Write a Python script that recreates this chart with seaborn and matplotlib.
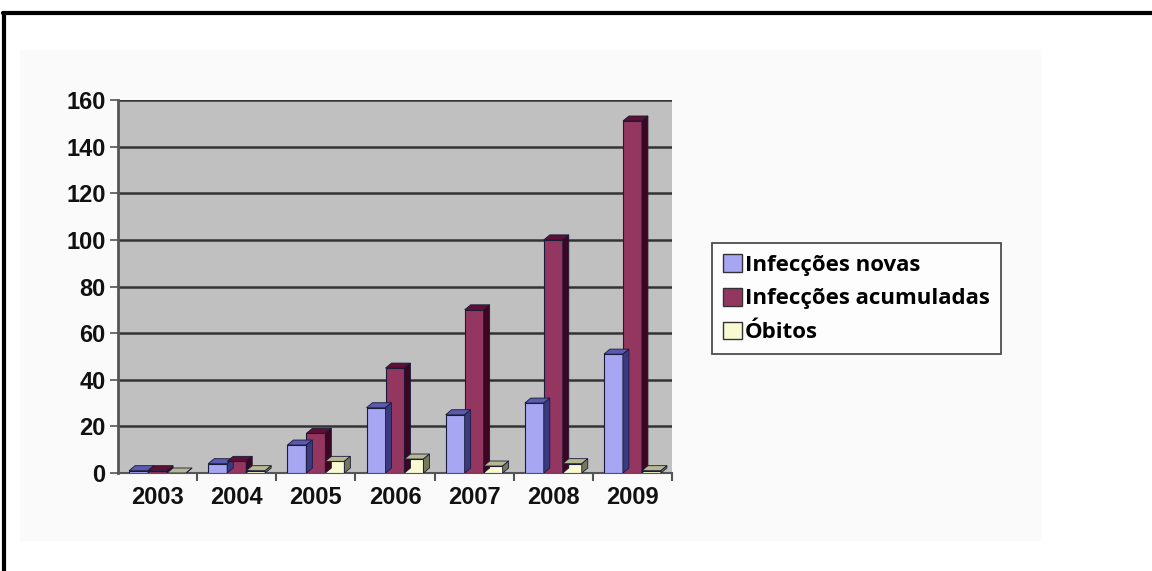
import matplotlib.pyplot as plt
import pandas as pd
import seaborn as sns
from matplotlib.patches import Polygon, Rectangle
from matplotlib.lines import Line2D

# Data
anos = ['2003', '2004', '2005', '2006', '2007', '2008', '2009']
novas = [1, 4, 12, 28, 25, 30, 51]
acumuladas = [1, 5, 17, 45, 70, 100, 151]
obitos = [0, 1, 5, 6, 3, 4, 1]
series = ['Infecções novas', 'Infecções acumuladas', 'Óbitos']

cores = ['#9999ff', '#a3285e', '#ffffcc']
cores_topo = ['#5a5ab0', '#5e0f33', '#b8b890']
cores_lado = ['#3a3a80', '#3d0620', '#77775a']

df = pd.DataFrame({
    'ano': anos * 3,
    'valor': novas + acumuladas + obitos,
    'serie': [s for s in series for _ in anos],
})

sns.set_style('white')
plt.rcParams['font.family'] = ['Liberation Sans', 'DejaVu Sans']

fig = plt.figure(figsize=(11.52, 5.71), dpi=100)
W, H = 1152, 571

# faint backdrop and outer frame
fig.patches.append(Rectangle((20 / W, 1 - 540 / H), 1020 / W, 490 / H,
                             transform=fig.transFigure, color='#fafafa', zorder=-5))
fig.add_artist(Line2D([3 / W, 1], [1 - 13 / H, 1 - 13 / H], transform=fig.transFigure,
                      color='black', lw=3))
fig.add_artist(Line2D([4 / W, 4 / W], [0, 1 - 13 / H], transform=fig.transFigure,
                      color='black', lw=3))

ax = fig.add_axes([118 / W, 1 - 473 / H, (672 - 118) / W, (473 - 100) / H])
ax.set_zorder(2)
ax.set_facecolor('#c0c0c0')

sns.barplot(data=df, x='ano', y='valor', hue='serie', palette=cores,
            width=0.72, edgecolor='#1a1a3a', linewidth=0.8, ax=ax, zorder=3)

ax.set_ylim(0, 160)
ax.set_xlim(-0.5, len(anos) - 0.5)
ax.set_yticks(range(0, 161, 20))
ax.yaxis.grid(True, color='#333333', lw=1.8, zorder=0)
ax.set_axisbelow(True)
ax.set_xlabel('')
ax.set_ylabel('')

# 3D depth for each bar
dx_px, dy_px = 6, 5
inv = ax.transData.inverted()
x0, y0 = inv.transform((0, 0))
x1, y1 = inv.transform((dx_px, dy_px))
dx, dy = x1 - x0, y1 - y0
for k, cont in enumerate(ax.containers):
    for bar in cont:
        bx, bw, bh = bar.get_x(), bar.get_width(), bar.get_height()
        topo = [(bx, bh), (bx + dx, bh + dy), (bx + bw + dx, bh + dy), (bx + bw, bh)]
        lado = [(bx + bw, 0), (bx + bw + dx, dy), (bx + bw + dx, bh + dy), (bx + bw, bh)]
        ax.add_patch(Polygon(topo, closed=True, facecolor=cores_topo[k],
                             edgecolor='#1a1a3a', lw=0.6, zorder=3))
        ax.add_patch(Polygon(lado, closed=True, facecolor=cores_lado[k],
                             edgecolor='#1a1a3a', lw=0.6, zorder=3))

for s in ['top', 'right']:
    ax.spines[s].set_visible(False)
ax.spines['left'].set_color('#555555')
ax.spines['left'].set_linewidth(2)
ax.spines['bottom'].set_color('#555555')
ax.spines['bottom'].set_linewidth(1.5)

ax.tick_params(axis='y', which='major', length=6, width=1.2, color='#555555',
               labelsize=17, pad=3, left=True)
ax.tick_params(axis='x', which='major', length=0, labelsize=17, pad=9)
ax.set_xticks([i + 0.5 for i in range(len(anos))], minor=True)
ax.tick_params(axis='x', which='minor', length=6, width=1.5, color='#555555', bottom=True)
for lab in ax.get_xticklabels() + ax.get_yticklabels():
    lab.set_fontweight('bold')
    lab.set_color('#111111')

# legend
ax.legend_.remove()
handles, labels = ax.get_legend_handles_labels()
leg = fig.legend(handles[:3], series, loc='upper left',
                 bbox_to_anchor=(712 / W, 1 - 243 / H), bbox_transform=fig.transFigure,
                 frameon=True, fancybox=False, handlelength=0.85, handleheight=0.85,
                 handletextpad=0.12, labelspacing=0.55, borderpad=0.5, borderaxespad=0,
                 prop={'family': 'Open Sans', 'weight': 'bold', 'size': 16})
leg.get_frame().set_edgecolor('#222222')
leg.get_frame().set_linewidth(1.3)
for h in leg.legend_handles:
    h.set_edgecolor('#333333')
    h.set_linewidth(1)
for t in leg.get_texts():
    t.set_color('black')

fig.savefig('out.png', dpi=100)
